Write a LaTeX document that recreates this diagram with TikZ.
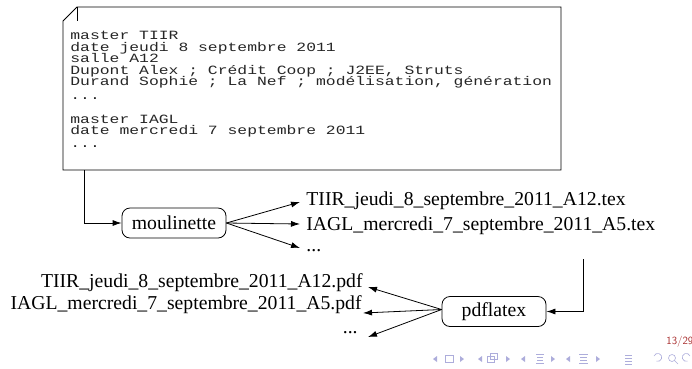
\documentclass[tikz,border=0pt]{standalone}
\usepackage{graphicx}
\usepackage{fontspec}
\setmainfont{Liberation Serif}
\setmonofont{Liberation Mono}
\usetikzlibrary{arrows.meta}
\definecolor{navc}{rgb}{0.68,0.68,0.86}
\definecolor{pgc}{rgb}{0.65,0.16,0.16}
\definecolor{codec}{rgb}{0.15,0.15,0.15}
\newcommand{\wideline}[1]{\scalebox{1.3}[1]{#1}}
\begin{document}
\begin{tikzpicture}[x=1pt,y=-1pt,
  line width=0.8pt,
  proc/.style={draw, rounded corners=8pt, minimum width=104pt, minimum height=30pt, inner sep=0pt, font=\fontsize{19.7}{22}\selectfont},
  lbl/.style={inner sep=0pt, font=\fontsize{19.7}{22}\selectfont},
  code/.style={inner sep=0pt, anchor=base west, text=codec, font=\fontsize{12.6}{13}\ttfamily},
  arr/.style={-{Latex[length=9pt,width=6pt]}},
  nav/.style={navc, line width=0.6pt}]
\useasboundingbox (0,0) rectangle (692,368);
% document box
\draw (63,21) -- (77,7) -- (561,7) -- (561,170) -- (63,170) -- cycle;
\draw (77,7) -- (77,21);
\node[code] (c1) at (70,39.5) {\wideline{master TIIR}};
\node[code] (c2) at (70,51) {\wideline{date jeudi 8 septembre 2011}};
\node[code] (c3) at (70,62.5) {\wideline{salle A12}};
\node[code] (c4) at (70,74) {\wideline{Dupont Alex ; Crédit Coop ; J2EE, Struts}};
\node[code] (c5) at (70,85.5) {\wideline{Durand Sophie ; La Nef ; modélisation, génération}};
\node[code] (c6) at (70,99) {\wideline{...}};
\node[code] (c7) at (70,123) {\wideline{master IAGL}};
\node[code] (c8) at (70,134.5) {\wideline{date mercredi 7 septembre 2011}};
\node[code] (c9) at (70,147) {\wideline{...}};
\coordinate (boxout) at (84,170);
% moulinette
\node[proc] (moul) at (174,223) {moulinette};
\draw[arr] (boxout) |- (moul.west);
\node[lbl, anchor=west] (t1) at (306,201) {TIIR\_jeudi\_8\_septembre\_2011\_A12.tex};
\node[lbl, anchor=west] (t2) at (306,226) {IAGL\_mercredi\_7\_septembre\_2011\_A5.tex};
\node[lbl, anchor=base west] (t3) at (306,251) {...};
\draw[arr] (moul.east) -- ([xshift=-6pt,yshift=-1pt]t1.west);
\draw[arr] (moul.east) -- ([xshift=-6pt,yshift=2pt]t2.west);
\draw[arr] (moul.east) -- ([xshift=-6pt,yshift=3pt]t3.base west);
% pdflatex
\node[proc] (pdf) at (494,311.5) {pdflatex};
\coordinate (texin) at (583,259);
\draw[arr] (texin) |- (pdf.east);
\node[lbl, anchor=east] (p1) at (363,283) {TIIR\_jeudi\_8\_septembre\_2011\_A12.pdf};
\node[lbl, anchor=east] (p2) at (362,305) {IAGL\_mercredi\_7\_septembre\_2011\_A5.pdf};
\node[lbl, anchor=base east] (p3) at (358,333) {...};
\draw[arr] ([yshift=2pt]pdf.west) -- ([xshift=5pt,yshift=-4pt]p1.east);
\draw[arr] ([yshift=2pt]pdf.west) -- ([xshift=1pt,yshift=-8pt]p2.east);
\draw[arr] ([yshift=2pt]pdf.west) -- ([xshift=10pt,yshift=-4pt]p3.base east);
% page number
\node[inner sep=0pt, anchor=west, text=pgc, font=\fontsize{11}{12}\sffamily] (pg) at (666,342) {13/29};
% navigation symbols
\fill[navc] (433,359) -- (437,356) -- (437,362) -- cycle;
\draw[nav] (445,355.5) rectangle (453,362);
\fill[navc] (464,359) -- (460,356) -- (460,362) -- cycle;
\fill[navc] (478,359) -- (482,356) -- (482,362) -- cycle;
\draw[nav] (487,356.5) rectangle (494,362.5);
\draw[nav] (490,353.5) rectangle (497,359.5);
\fill[navc] (510,359) -- (506,356) -- (506,362) -- cycle;
\fill[navc] (521,359) -- (525,356) -- (525,362) -- cycle;
\draw[nav] (536,354.5) -- (544,354.5) (537,357.5) -- (543,357.5) (537,360.5) -- (543,360.5) (536,363.5) -- (544,363.5);
\fill[navc] (555,359) -- (551,356) -- (551,362) -- cycle;
\fill[navc] (566,359) -- (570,356) -- (570,362) -- cycle;
\draw[nav] (579,354.5) -- (588,354.5) (580,357.5) -- (587,357.5) (580,360.5) -- (587,360.5) (579,363.5) -- (588,363.5);
\fill[navc] (600,359) -- (596,356) -- (596,362) -- cycle;
\draw[nav] (625,355) -- (632,355) (625,358) -- (632,358) (625,361) -- (632,361) (625,364) -- (632,364);
\draw[nav] (654,356) arc[start angle=160, end angle=-110, radius=4pt];
\draw[nav] (672,358) circle[radius=3.5pt] (674.5,360.5) -- (678,364);
\draw[nav] (690,356) arc[start angle=20, end angle=290, radius=4pt];
\end{tikzpicture}
\end{document}
